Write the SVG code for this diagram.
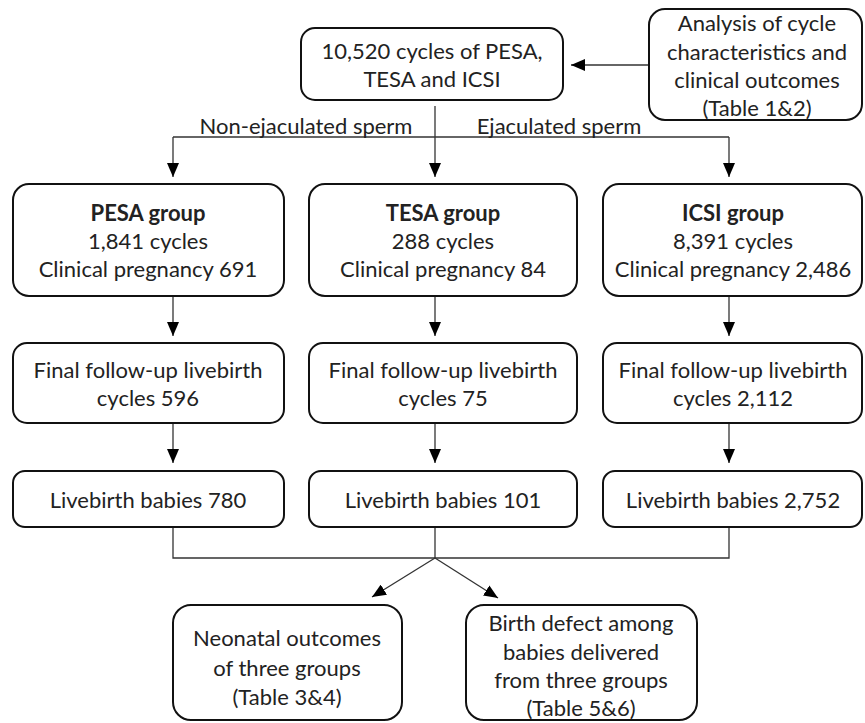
<svg xmlns="http://www.w3.org/2000/svg" width="865" height="723" viewBox="0 0 865 723">
<defs>
<style>
.box{fill:#fff;stroke:#111;stroke-width:2}
.t{font-family:Lato,"Liberation Sans",sans-serif;font-size:22px;fill:#222;text-anchor:middle}
.b{font-weight:bold}
.c{fill:none;stroke:#333;stroke-width:1.3}
</style>
<marker id="ah" viewBox="0 0 14 12" refX="14" refY="6" markerWidth="14" markerHeight="12" markerUnits="userSpaceOnUse" orient="auto">
<path d="M0,0 L14,6 L0,12 z" fill="#000"/>
</marker>
</defs>
<rect width="865" height="723" fill="#fff"/>
<g id="connectors">
<line class="c" x1="649" y1="65" x2="571" y2="65" marker-end="url(#ah)"/>
<line class="c" x1="435" y1="106" x2="435" y2="177" marker-end="url(#ah)"/>
<line class="c" x1="173" y1="137" x2="729" y2="137"/>
<line class="c" x1="173" y1="137" x2="173" y2="177" marker-end="url(#ah)"/>
<line class="c" x1="729" y1="137" x2="729" y2="177" marker-end="url(#ah)"/>
<line class="c" x1="173" y1="296" x2="173" y2="336" marker-end="url(#ah)"/>
<line class="c" x1="435" y1="296" x2="435" y2="336" marker-end="url(#ah)"/>
<line class="c" x1="729" y1="296" x2="729" y2="336" marker-end="url(#ah)"/>
<line class="c" x1="173" y1="423" x2="173" y2="463" marker-end="url(#ah)"/>
<line class="c" x1="435" y1="423" x2="435" y2="463" marker-end="url(#ah)"/>
<line class="c" x1="729" y1="423" x2="729" y2="463" marker-end="url(#ah)"/>
<polyline class="c" points="173,527 173,558 729,558 729,527"/>
<line class="c" x1="435" y1="527" x2="435" y2="558"/>
<line class="c" x1="435" y1="558" x2="372" y2="597" marker-end="url(#ah)"/>
<line class="c" x1="435" y1="558" x2="498" y2="598" marker-end="url(#ah)"/>
<text class="t" x="306" y="134">Non-ejaculated sperm</text>
<text class="t" x="559" y="134">Ejaculated sperm</text>
</g>
<g id="n_total">
<rect class="box" x="301" y="28" width="262" height="72" rx="14"/>
<text class="t" x="432" y="59">10,520 cycles of PESA,</text>
<text class="t" x="432" y="87">TESA and ICSI</text>
</g>
<g id="n_analysis">
<rect class="box" x="649" y="9" width="213" height="111" rx="16"/>
<text class="t" x="757" y="31">Analysis of cycle</text>
<text class="t" x="757" y="60">characteristics and</text>
<text class="t" x="757" y="88">clinical outcomes</text>
<text class="t" x="757" y="116">(Table 1&amp;2)</text>
</g>
<g id="n_pesa">
<rect class="box" x="13" y="184" width="271" height="112" rx="16"/>
<text class="t b" x="148" y="221">PESA group</text>
<text class="t" x="148" y="249">1,841 cycles</text>
<text class="t" x="148" y="277">Clinical pregnancy 691</text>
</g>
<g id="n_tesa">
<rect class="box" x="309" y="184" width="268" height="112" rx="16"/>
<text class="t b" x="443" y="221">TESA group</text>
<text class="t" x="443" y="249">288 cycles</text>
<text class="t" x="443" y="277">Clinical pregnancy 84</text>
</g>
<g id="n_icsi">
<rect class="box" x="603" y="184" width="259" height="112" rx="16"/>
<text class="t b" x="733" y="221">ICSI group</text>
<text class="t" x="733" y="249">8,391 cycles</text>
<text class="t" x="733" y="277">Clinical pregnancy 2,486</text>
</g>
<g id="n_pesa_fu">
<rect class="box" x="13" y="343" width="271" height="80" rx="14"/>
<text class="t" x="148" y="378">Final follow-up livebirth</text>
<text class="t" x="148" y="406">cycles 596</text>
</g>
<g id="n_tesa_fu">
<rect class="box" x="309" y="343" width="268" height="80" rx="14"/>
<text class="t" x="443" y="378">Final follow-up livebirth</text>
<text class="t" x="443" y="406">cycles 75</text>
</g>
<g id="n_icsi_fu">
<rect class="box" x="603" y="343" width="259" height="80" rx="14"/>
<text class="t" x="733" y="378">Final follow-up livebirth</text>
<text class="t" x="733" y="406">cycles 2,112</text>
</g>
<g id="n_pesa_lb">
<rect class="box" x="13" y="471" width="271" height="56" rx="12"/>
<text class="t" x="148" y="508">Livebirth babies 780</text>
</g>
<g id="n_tesa_lb">
<rect class="box" x="309" y="471" width="268" height="56" rx="12"/>
<text class="t" x="443" y="508">Livebirth babies 101</text>
</g>
<g id="n_icsi_lb">
<rect class="box" x="603" y="471" width="259" height="56" rx="12"/>
<text class="t" x="733" y="508">Livebirth babies 2,752</text>
</g>
<g id="n_neonatal">
<rect class="box" x="173" y="605" width="229" height="115" rx="18"/>
<text class="t" x="287" y="646">Neonatal outcomes</text>
<text class="t" x="287" y="676">of three groups</text>
<text class="t" x="287" y="705">(Table 3&amp;4)</text>
</g>
<g id="n_defect">
<rect class="box" x="466" y="605" width="231" height="115" rx="18"/>
<text class="t" x="581" y="631">Birth defect among</text>
<text class="t" x="581" y="660">babies delivered</text>
<text class="t" x="581" y="688">from three groups</text>
<text class="t" x="581" y="716">(Table 5&amp;6)</text>
</g>
</svg>
